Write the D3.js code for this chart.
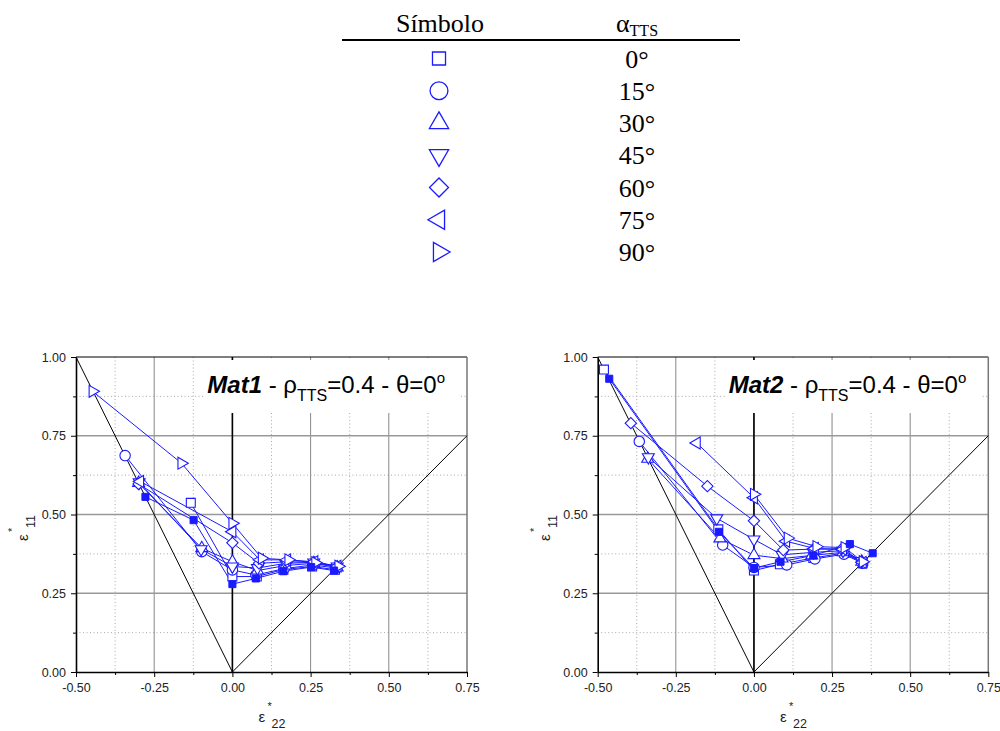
<!DOCTYPE html>
<html lang="en">
<head>
<meta charset="utf-8">
<title>Mat1 / Mat2 strain paths</title>
<script src="https://d3js.org/d3.v7.min.js"></script>
<style>
  body { margin: 0; background: #fff; }
  svg { display: block; }
</style>
</head>
<body>
<script>
// ---- data ----
var symbolNames  = ["square", "circle", "triUp", "triDown", "diamond", "triLeft", "triRight"];
var alphaLabels  = ["0°", "15°", "30°", "45°", "60°", "75°", "90°"];

var xMajor = [-0.5, -0.25, 0, 0.25, 0.5, 0.75];
var xMinor = [-0.375, -0.125, 0.125, 0.375, 0.625];
var yMajor = [0, 0.25, 0.5, 0.75, 1];
var yMinor = [0.125, 0.375, 0.625, 0.875];

// Mat1 (eps22, eps11)
var m1_a00 = [[-0.133,0.537],[0,0.303],[0.078,0.303],[0.163,0.325],[0.255,0.335],[0.328,0.325]];
var m1_ref = [[-0.278,0.556],[-0.124,0.482],[0,0.279],[0.075,0.297],[0.163,0.320],[0.252,0.333],[0.325,0.322]];
var m1_a15 = [[-0.343,0.687],[-0.098,0.382],[0,0.324],[0.075,0.308],[0.165,0.328],[0.258,0.340],[0.330,0.330]];
var m1_a30 = [[-0.300,0.600],[-0.098,0.393],[0,0.350],[0.080,0.322],[0.170,0.338],[0.260,0.345],[0.335,0.332]];
var m1_a45 = [[-0.298,0.602],[-0.100,0.390],[0,0.335],[0.080,0.330],[0.170,0.345],[0.260,0.348],[0.335,0.335]];
var m1_a60 = [[-0.300,0.597],[0,0.410],[0.085,0.345],[0.175,0.350],[0.262,0.348],[0.335,0.334]];
var m1_a75 = [[-0.295,0.605],[0,0.445],[0.088,0.356],[0.175,0.356],[0.262,0.350],[0.336,0.336]];
var m1_a90 = [[-0.447,0.891],[-0.163,0.663],[0,0.472],[0.094,0.361],[0.179,0.356],[0.265,0.347],[0.339,0.336]];

// Mat2
var m2_a00 = [[-0.480,0.960],[-0.114,0.453],[0,0.322],[0.083,0.342],[0.190,0.362],[0.290,0.378],[0.348,0.345]];
var m2_ref = [[-0.463,0.931],[-0.112,0.445],[0,0.330],[0.085,0.350],[0.190,0.370],[0.307,0.406],[0.380,0.377]];
var m2_a15 = [[-0.367,0.732],[-0.100,0.403],[0,0.332],[0.105,0.340],[0.195,0.359],[0.288,0.374],[0.348,0.345]];
var m2_a30 = [[-0.340,0.677],[-0.109,0.424],[0,0.371],[0.090,0.360],[0.185,0.370],[0.285,0.380],[0.345,0.350]];
var m2_a45 = [[-0.338,0.682],[-0.119,0.488],[0,0.421],[0.090,0.372],[0.190,0.380],[0.285,0.385],[0.345,0.352]];
var m2_a60 = [[-0.394,0.790],[-0.149,0.590],[0,0.480],[0.094,0.387],[0.190,0.390],[0.280,0.390],[0.345,0.350]];
var m2_a75 = [[-0.183,0.727],[0,0.553],[0.103,0.415],[0.195,0.392],[0.285,0.390],[0.348,0.348]];
var m2_a90 = [[0,0.564],[0.108,0.425],[0.200,0.398],[0.290,0.395],[0.348,0.350]];

var blue = "#1a1aff";

var svg = d3.select("body").append("svg")
    .attr("width", 1000)
    .attr("height", 731);

// symbol path for a given marker type
function markerPath(type, size) {
  var sym = d3.symbolTriangle, rot = 0;
  if (type == "square") sym = d3.symbolSquare;
  if (type == "circle") sym = d3.symbolCircle;
  if (type == "diamond") { sym = d3.symbolSquare; rot = 45; }
  if (type == "triDown") rot = 180;
  if (type == "triLeft") rot = -90;
  if (type == "triRight") rot = 90;
  return { d: d3.symbol().type(sym).size(size)(), rot: rot };
}

// ---- legend table ----
var serif = "'Liberation Serif', 'Times New Roman', serif";
var leg = svg.append("g");
leg.append("text")
    .attr("x", 440).attr("y", 32)
    .attr("text-anchor", "middle")
    .style("font-family", serif).style("font-size", "26px")
    .text("Símbolo");
var ah = leg.append("text")
    .attr("x", 637).attr("y", 32)
    .attr("text-anchor", "middle")
    .style("font-family", serif).style("font-size", "26px");
ah.append("tspan").text("α");
ah.append("tspan").attr("dy", 4).style("font-size", "16px").text("TTS");
leg.append("line")
    .attr("x1", 342).attr("x2", 740)
    .attr("y1", 40).attr("y2", 40)
    .attr("stroke", "#000").attr("stroke-width", 2);

var rowY = d3.scaleLinear().domain([0, 6]).range([58.5, 252]);
var legSizes = {square: 170, circle: 250, triUp: 160, triDown: 160, diamond: 180, triLeft: 160, triRight: 160};
symbolNames.forEach(function(s, i) {
  var m = markerPath(s, legSizes[s]);
  leg.append("path")
      .attr("d", m.d)
      .attr("transform", "translate(439," + rowY(i) + ") rotate(" + m.rot + ")")
      .attr("fill", "none").attr("stroke", blue).attr("stroke-width", 1.3);
  leg.append("text")
      .attr("x", 637).attr("y", rowY(i) + 9)
      .attr("text-anchor", "middle")
      .style("font-family", serif).style("font-size", "26px")
      .text(alphaLabels[i]);
});

// ---- panels ----
var sans = "'Liberation Sans', Arial, sans-serif";
var plotSizes = {square: 80, circle: 85, triUp: 62, triDown: 62, diamond: 64, triLeft: 62, triRight: 62};

function panel(left, right, name, series, ref) {
  var top = 357, bottom = 672;
  var x = d3.scaleLinear().domain([-0.5, 0.75]).range([left, right]);
  var y = d3.scaleLinear().domain([0, 1]).range([bottom, top]);
  var g = svg.append("g");

  // grid
  g.selectAll(".gxm").data(xMinor).enter().append("line")
      .attr("x1", d => x(d)).attr("x2", d => x(d)).attr("y1", top).attr("y2", bottom)
      .attr("stroke", "#aaa").attr("stroke-dasharray", "1,2.5");
  g.selectAll(".gym").data(yMinor).enter().append("line")
      .attr("y1", d => y(d)).attr("y2", d => y(d)).attr("x1", left).attr("x2", right)
      .attr("stroke", "#aaa").attr("stroke-dasharray", "1,2.5");
  g.selectAll(".gxM").data(xMajor.slice(1, -1)).enter().append("line")
      .attr("x1", d => x(d)).attr("x2", d => x(d)).attr("y1", top).attr("y2", bottom)
      .attr("stroke", "#888").attr("stroke-width", 1);
  g.selectAll(".gyM").data(yMajor.slice(1, -1)).enter().append("line")
      .attr("y1", d => y(d)).attr("y2", d => y(d)).attr("x1", left).attr("x2", right)
      .attr("stroke", "#999").attr("stroke-width", 1.6);

  // frame top/right
  g.append("line").attr("x1", left).attr("x2", right).attr("y1", top).attr("y2", top)
      .attr("stroke", "#000").attr("stroke-width", 1.2);
  g.append("line").attr("x1", right).attr("x2", right).attr("y1", top).attr("y2", bottom)
      .attr("stroke", "#777").attr("stroke-width", 1.5);

  // reference lines
  g.append("path")
      .attr("d", d3.line()([[x(-0.5), y(1)], [x(0), y(0)], [x(0.75), y(0.75)]]))
      .attr("fill", "none").attr("stroke", "#000").attr("stroke-width", 1);
  g.append("line").attr("x1", x(0)).attr("x2", x(0)).attr("y1", top).attr("y2", bottom)
      .attr("stroke", "#000").attr("stroke-width", 1.6);

  // title box + title
  g.append("rect")
      .attr("x", right - 262).attr("y", 360).attr("width", 255).attr("height", 53)
      .attr("fill", "#fff");
  var t = g.append("text")
      .attr("x", right - 22).attr("y", 393)
      .attr("text-anchor", "end")
      .style("font-family", sans).style("font-size", "24px");
  t.append("tspan").style("font-weight", "bold").style("font-style", "italic").text(name);
  t.append("tspan").text(" - ρ");
  t.append("tspan").attr("dy", 8).style("font-size", "16px").text("TTS");
  t.append("tspan").attr("dy", -8).text("=0.4 - θ=0");
  t.append("tspan").attr("dy", -10).style("font-size", "15px").text("o");

  // axes
  var fmt = d => d.toFixed(2);
  var ax = g.append("g").attr("transform", "translate(0," + bottom + ")")
      .call(d3.axisBottom(x).tickValues(xMajor).tickSize(5).tickSizeOuter(0).tickPadding(6).tickFormat(fmt));
  g.append("g").attr("transform", "translate(0," + bottom + ")")
      .call(d3.axisBottom(x).tickValues(xMinor).tickSize(3).tickFormat(""))
      .call(a => a.select(".domain").remove());
  var ay = g.append("g").attr("transform", "translate(" + left + ",0)")
      .call(d3.axisLeft(y).tickValues(yMajor).tickSize(5).tickSizeOuter(0).tickPadding(5).tickFormat(fmt));
  g.append("g").attr("transform", "translate(" + left + ",0)")
      .call(d3.axisLeft(y).tickValues(yMinor).tickSize(3).tickFormat(""))
      .call(a => a.select(".domain").remove());
  [ax, ay].forEach(function(a) {
    a.attr("font-family", sans).attr("font-size", 12.5);
    a.select(".domain").attr("stroke-width", 1.6);
    a.selectAll("text").attr("fill", "#222");
  });

  // axis titles
  var cx = (left + right) / 2;
  var xl = g.append("text").style("font-family", sans).style("font-size", "15px").attr("fill", "#222");
  xl.append("tspan").attr("x", cx - 13).attr("y", 722).text("ε");
  xl.append("tspan").attr("x", cx - 4).attr("y", 710).style("font-size", "11px").text("*");
  xl.append("tspan").attr("x", cx).attr("y", 728).style("font-size", "12.5px").text("22");

  var yl = g.append("g").attr("transform", "translate(" + (left - 48) + ",541) rotate(-90)")
      .append("text").style("font-family", sans).style("font-size", "15px").attr("fill", "#222");
  yl.append("tspan").attr("x", 0).attr("y", 0).text("ε");
  yl.append("tspan").attr("x", 9).attr("y", -12).style("font-size", "11px").text("*");
  yl.append("tspan").attr("x", 13).attr("y", 7).style("font-size", "12.5px").text("11");

  // series lines
  var line = d3.line().x(d => x(d[0])).y(d => y(d[1]));
  var all = series.concat([ref]);
  all.forEach(function(s) {
    g.append("path").attr("d", line(s))
        .attr("fill", "none").attr("stroke", blue).attr("stroke-width", 1);
  });

  // markers
  series.forEach(function(s, i) {
    var m = markerPath(symbolNames[i], plotSizes[symbolNames[i]]);
    g.selectAll(null).data(s).enter().append("path")
        .attr("d", m.d)
        .attr("transform", d => "translate(" + x(d[0]) + "," + y(d[1]) + ") rotate(" + m.rot + ")")
        .attr("fill", "#fff").attr("stroke", blue).attr("stroke-width", 1.1);
  });
  var mf = markerPath("square", 50);
  g.selectAll(null).data(ref).enter().append("path")
      .attr("d", mf.d)
      .attr("transform", d => "translate(" + x(d[0]) + "," + y(d[1]) + ")")
      .attr("fill", blue).attr("stroke", blue).attr("stroke-width", 1);
}

panel(76, 467, "Mat1", [m1_a00, m1_a15, m1_a30, m1_a45, m1_a60, m1_a75, m1_a90], m1_ref);
panel(597.7, 988.3, "Mat2", [m2_a00, m2_a15, m2_a30, m2_a45, m2_a60, m2_a75, m2_a90], m2_ref);
</script>
</body>
</html>
